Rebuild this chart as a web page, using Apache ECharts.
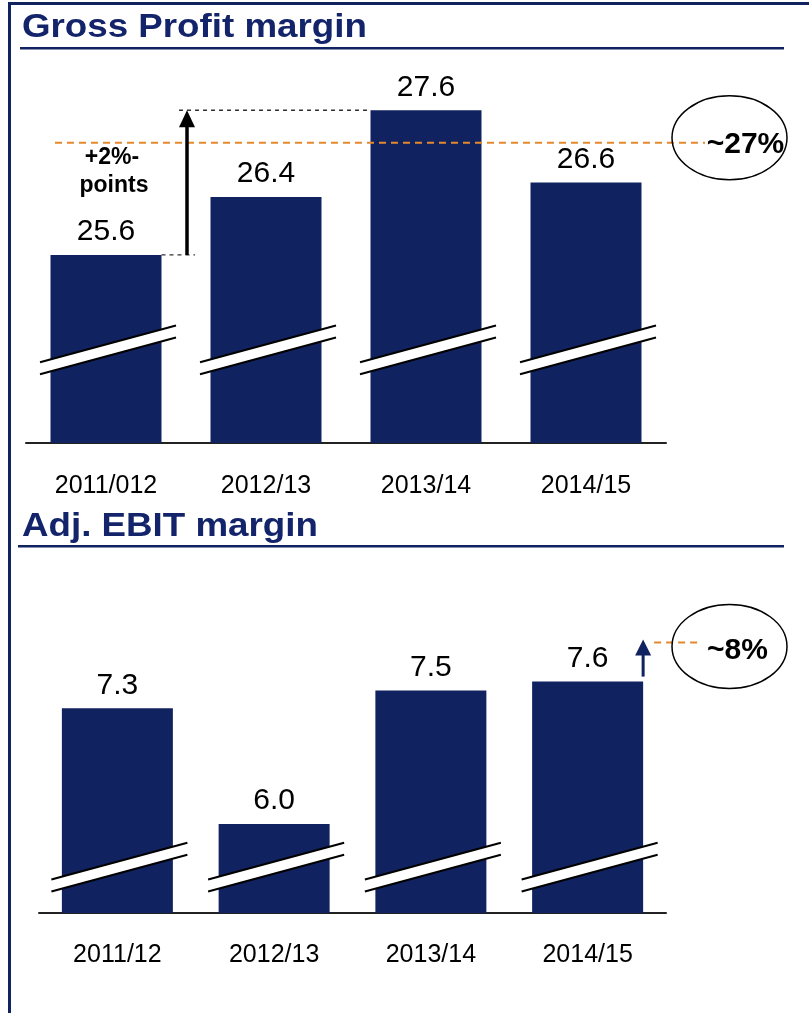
<!DOCTYPE html>
<html>
<head>
<meta charset="utf-8">
<title>Gross Profit and Adj. EBIT margin</title>
<script src="https://cdn.jsdelivr.net/npm/echarts@6/dist/echarts.min.js"></script>
<style>
  html, body { margin: 0; padding: 0; background: #ffffff; }
  #chart { width: 809px; height: 1013px; }
</style>
</head>
<body>
<div id="chart"></div>
<script>
// ---- data ----
const gpCategories = ['2011/012', '2012/13', '2013/14', '2014/15'];
const gpValues = [25.6, 26.4, 27.6, 26.6];
const gpTarget = 27.15;          // "~27%" target level
const gpBreakLevel = 24.28;      // where the axis break is drawn

const ebitCategories = ['2011/12', '2012/13', '2013/14', '2014/15'];
const ebitValues = [7.3, 6.0, 7.5, 7.6];
const ebitTarget = 8.04;         // "~8%" target level
const ebitBreakLevel = 5.51;

const gpTitle = 'Gross Profit margin';
const ebitTitle = 'Adj. EBIT margin';
const gpDeltaText = ['+2%-', 'points'];
const gpTargetText = '~27%';
const ebitTargetText = '~8%';

// ---- styling ----
const FONT = "'Liberation Sans', Arial, Helvetica, sans-serif";
const NAVY = '#10225f';
const TITLE_NAVY = '#13246a';
const ORANGE = '#e3892e';
const BAR_W = 111;

const chart = echarts.init(document.getElementById('chart'), null, { renderer: 'canvas' });

// Two slanted parallel strokes with a white gap: the broken-axis symbol
function renderBreak(params, api) {
  const c = api.coord([api.value(0), api.value(1)]);
  const half = 6, left = -66, right = 70, slope = 0.27;
  const yAt = (dx, off) => c[1] + off - slope * dx;
  const x0 = c[0] + left, x1 = c[0] + right;
  return {
    type: 'group',
    children: [
      { type: 'polygon',
        shape: { points: [[x0, yAt(left, -half)], [x1, yAt(right, -half)], [x1, yAt(right, half)], [x0, yAt(left, half)]] },
        style: { fill: '#ffffff' } },
      { type: 'line', shape: { x1: x0, y1: yAt(left, -half), x2: x1, y2: yAt(right, -half) },
        style: { stroke: '#000', lineWidth: 2 } },
      { type: 'line', shape: { x1: x0, y1: yAt(left, half), x2: x1, y2: yAt(right, half) },
        style: { stroke: '#000', lineWidth: 2 } }
    ]
  };
}

// Gross profit annotations: +2 pt arrow, target line, ellipse callout
function renderGpNotes(params, api) {
  const cs = params.coordSys;
  const p0 = api.coord([0, gpValues[0]]);
  const p2 = api.coord([2, gpValues[2]]);
  const yT = api.coord([0, gpTarget])[1];
  const ax = p0[0] + 81;
  const gridRight = cs.x + cs.width;
  const ex = gridRight + 63.5;
  const dash = { stroke: '#333', lineWidth: 1.3, lineDash: [4, 4] };
  return {
    type: 'group',
    children: [
      { type: 'line', shape: { x1: ax - 8, y1: p2[1], x2: p2[0] - BAR_W / 2, y2: p2[1] }, style: dash },
      { type: 'line', shape: { x1: p0[0] + BAR_W / 2, y1: p0[1], x2: ax + 8, y2: p0[1] }, style: dash },
      { type: 'line', shape: { x1: cs.x + 29, y1: yT, x2: gridRight + 39, y2: yT },
        style: { stroke: ORANGE, lineWidth: 2, lineDash: [7, 5] } },
      { type: 'line', shape: { x1: ax, y1: p0[1], x2: ax, y2: p2[1] + 14 },
        style: { stroke: '#000', lineWidth: 3.5 } },
      { type: 'polygon', shape: { points: [[ax, p2[1]], [ax - 8, p2[1] + 17], [ax + 8, p2[1] + 17]] },
        style: { fill: '#000' } },
      { type: 'text', style: { text: gpDeltaText[0], x: p0[0] + 6, y: p0[1] - 97, align: 'center', verticalAlign: 'middle',
        font: 'bold 23px ' + FONT, fill: '#000' } },
      { type: 'text', style: { text: gpDeltaText[1], x: p0[0] + 8, y: p0[1] - 69, align: 'center', verticalAlign: 'middle',
        font: 'bold 23px ' + FONT, fill: '#000' } },
      { type: 'ellipse', shape: { cx: ex, cy: yT - 5, rx: 57.5, ry: 42 },
        style: { fill: 'none', stroke: '#000', lineWidth: 1.5 } },
      { type: 'text', style: { text: gpTargetText, x: ex + 16, y: yT + 2, align: 'center', verticalAlign: 'middle',
        font: 'bold 30px ' + FONT, fill: '#000' } }
    ]
  };
}

// EBIT annotations: small upward arrow, target line, ellipse callout
function renderEbitNotes(params, api) {
  const cs = params.coordSys;
  const p3 = api.coord([3, ebitValues[3]]);
  const yT = api.coord([3, ebitTarget])[1];
  const ax = p3[0] + BAR_W / 2;
  const ex = cs.x + cs.width + 63.5;
  const top = yT - 3;
  return {
    type: 'group',
    children: [
      { type: 'line', shape: { x1: ax, y1: p3[1] - 5, x2: ax, y2: top + 14 },
        style: { stroke: NAVY, lineWidth: 3 } },
      { type: 'polygon', shape: { points: [[ax, top], [ax - 8, top + 16], [ax + 8, top + 16]] },
        style: { fill: NAVY } },
      { type: 'line', shape: { x1: ax + 11, y1: yT, x2: ex - 30, y2: yT },
        style: { stroke: ORANGE, lineWidth: 2, lineDash: [7, 5] } },
      { type: 'ellipse', shape: { cx: ex, cy: yT + 4, rx: 57.5, ry: 42 },
        style: { fill: 'none', stroke: '#000', lineWidth: 1.5 } },
      { type: 'text', style: { text: ebitTargetText, x: ex + 8, y: yT + 8, align: 'center', verticalAlign: 'middle',
        font: 'bold 30px ' + FONT, fill: '#000' } }
    ]
  };
}

const valueLabel = {
  show: true, position: 'top', distance: 8,
  fontFamily: FONT, fontSize: 30, color: '#000',
  formatter: (p) => Number(p.value).toFixed(1)
};

function xAxisFor(cats, gridIndex, margin) {
  return {
    type: 'category', gridIndex, data: cats,
    axisTick: { show: false },
    axisLine: { lineStyle: { color: '#222', width: 2 } },
    axisLabel: { fontFamily: FONT, fontSize: 25, color: '#000', margin }
  };
}

const option = {
  animation: false,
  backgroundColor: '#ffffff',
  grid: [
    { left: 26, width: 640, top: 9, height: 434 },
    { left: 39, width: 627, top: 557, height: 356 }
  ],
  xAxis: [
    xAxisFor(gpCategories, 0, 31),
    xAxisFor(ebitCategories, 1, 30)
  ],
  yAxis: [
    { type: 'value', gridIndex: 0, min: 23, max: 29, show: false, splitLine: { show: false } },
    { type: 'value', gridIndex: 1, min: 5, max: 9, show: false, splitLine: { show: false } }
  ],
  series: [
    { type: 'bar', xAxisIndex: 0, yAxisIndex: 0, data: gpValues, barWidth: BAR_W,
      itemStyle: { color: NAVY }, label: valueLabel, z: 2 },
    { type: 'bar', xAxisIndex: 1, yAxisIndex: 1, data: ebitValues, barWidth: BAR_W,
      itemStyle: { color: NAVY }, label: valueLabel, z: 2 },
    { type: 'custom', xAxisIndex: 0, yAxisIndex: 0, renderItem: renderBreak, z: 5,
      data: gpCategories.map((c, i) => [i, gpBreakLevel]) },
    { type: 'custom', xAxisIndex: 1, yAxisIndex: 1, renderItem: renderBreak, z: 5,
      data: ebitCategories.map((c, i) => [i, ebitBreakLevel]) },
    { type: 'custom', xAxisIndex: 0, yAxisIndex: 0, renderItem: renderGpNotes, z: 6, data: [[0, gpTarget]] },
    { type: 'custom', xAxisIndex: 1, yAxisIndex: 1, renderItem: renderEbitNotes, z: 6, data: [[3, ebitTarget]] }
  ],
  graphic: [
    // page frame: top rule and left rule
    { type: 'rect', shape: { x: 8, y: 2, width: 801, height: 3 }, style: { fill: NAVY }, silent: true },
    { type: 'rect', shape: { x: 8, y: 2, width: 3, height: 1011 }, style: { fill: NAVY }, silent: true },
    // section titles with underline
    { type: 'text', x: 22, y: 28, scaleX: 1.08,
      style: { text: gpTitle, font: 'bold 34px ' + FONT, fill: TITLE_NAVY, verticalAlign: 'middle' } },
    { type: 'rect', shape: { x: 20, y: 47, width: 764, height: 2.5 }, style: { fill: NAVY } },
    { type: 'text', x: 22, y: 527, scaleX: 1.08,
      style: { text: ebitTitle, font: 'bold 34px ' + FONT, fill: TITLE_NAVY, verticalAlign: 'middle' } },
    { type: 'rect', shape: { x: 18, y: 545, width: 766, height: 2.5 }, style: { fill: NAVY } }
  ]
};

chart.setOption(option);
</script>
</body>
</html>
